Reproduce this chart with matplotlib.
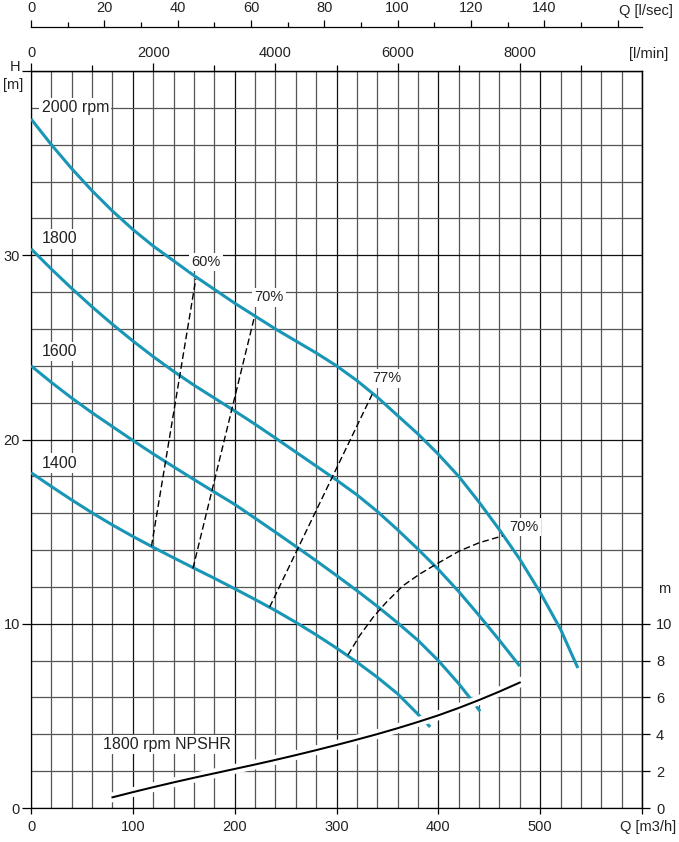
import matplotlib
matplotlib.use('Agg')
import matplotlib.pyplot as plt
import matplotlib.patheffects as pe
from matplotlib.ticker import FixedLocator, MultipleLocator

plt.rcParams['font.family'] = ['Liberation Sans', 'DejaVu Sans']

# ---------------- data ----------------
q_2000 = [0, 20, 40, 60, 80, 100, 120, 140, 160, 180, 200, 220, 240, 260, 280, 300,
          320, 340, 360, 380, 400, 420, 440, 460, 480, 500, 520, 537]
h_2000 = [37.4, 36.0, 34.7, 33.5, 32.4, 31.4, 30.5, 29.7, 28.9, 28.15, 27.4, 26.7, 26.0,
          25.35, 24.7, 24.0, 23.2, 22.3, 21.3, 20.3, 19.2, 18.0, 16.6, 15.1, 13.5, 11.7, 9.7, 7.6]

q_1800 = [0, 20, 40, 60, 80, 100, 120, 140, 160, 180, 200, 220, 240, 260, 280, 300,
          320, 340, 360, 380, 400, 420, 440, 460, 480]
h_1800 = [30.35, 29.25, 28.2, 27.2, 26.25, 25.35, 24.5, 23.7, 22.95, 22.25, 21.55, 20.83,
          20.08, 19.32, 18.56, 17.8, 17.0, 16.1, 15.1, 14.05, 12.95, 11.75, 10.45, 9.1, 7.7]

q_1600 = [0, 20, 40, 60, 80, 100, 120, 140, 160, 180, 200, 220, 240, 260, 280, 300,
          320, 340, 360, 380, 400, 420, 430, 441]
h_1600 = [24.0, 23.1, 22.25, 21.45, 20.7, 19.95, 19.22, 18.52, 17.83, 17.15, 16.48, 15.73,
          14.97, 14.2, 13.42, 12.62, 11.8, 10.95, 10.05, 9.1, 8.0, 6.75, 6.05, 5.25]

q_1400 = [0, 20, 40, 60, 80, 100, 120, 140, 160, 180, 200, 220, 240, 260, 280, 300,
          320, 340, 360, 378, 392]
h_1400 = [18.2, 17.45, 16.72, 16.02, 15.36, 14.74, 14.15, 13.58, 13.02, 12.47, 11.9, 11.32,
          10.72, 10.08, 9.4, 8.68, 7.92, 7.1, 6.2, 5.2, 4.4]

speed_labels = ['2000 rpm', '1800', '1600', '1400']
speed_label_h = [37.75, 30.65, 24.53, 18.46]

eff60_q, eff60_h = [118.3, 161.8], [14.2, 28.7]
eff70a_q, eff70a_h = [159.0, 219.6], [13.0, 26.7]
eff77_q, eff77_h = [234.3, 335.0], [10.9, 22.45]
eff70b_q = [311.2, 322.7, 335.8, 348.8, 365.2, 381.5, 397.8, 420.7, 440.3, 463.2]
eff70b_h = [8.30, 9.35, 10.34, 11.16, 12.06, 12.69, 13.23, 13.95, 14.40, 14.77]
eff_labels = ['60%', '70%', '77%', '70%']
eff_label_q = [157.5, 219.6, 335.0, 469.6]
eff_label_h = [29.41, 27.5, 23.1, 15.05]

npshr_q = [80, 100, 120, 140, 160, 180, 200, 220, 240, 260, 280, 300, 320, 340, 360,
           380, 400, 420, 440, 460, 480]
npshr_h = [0.58, 0.86, 1.13, 1.39, 1.64, 1.88, 2.12, 2.36, 2.61, 2.87, 3.14, 3.42, 3.71,
           4.01, 4.33, 4.67, 5.03, 5.43, 5.86, 6.32, 6.81]

x_ticks = [0, 100, 200, 300, 400, 500, 600]
x_ticklabels = ['0', '100', '200', '300', '400', '500', '']
y_ticks = [0, 10, 20, 30, 40]
y_ticklabels = ['0', '10', '20', '30', '']
npshr_ticks = [0, 2, 4, 6, 8, 10]
lps_major = [0, 20, 40, 60, 80, 100, 120, 140, 160]
lps_labels = ['0', '20', '40', '60', '80', '100', '120', '140', '']
lps_minor = [10, 30, 50, 70, 90, 110, 130, 150]
lmin_major = [0, 2000, 4000, 6000, 8000]
lmin_labels = ['0', '2000', '4000', '6000', '8000']
lmin_minor = [1000, 3000, 5000, 7000, 9000]

# ---------------- figure ----------------
W, H = 679, 842
fig = plt.figure(figsize=(W / 100, H / 100), dpi=100)
L, R, B, T = 31 / W, 642 / W, 1 - 808 / H, 1 - 71 / H
ax = fig.add_axes([L, B, R - L, T - B])
ax.set_xlim(0, 600)
ax.set_ylim(0, 40)

TXT = '#222222'
BLUE = '#1996b6'

for s in ax.spines.values():
    s.set_color('black')
    s.set_linewidth(0.9)

ax.set_xticks(x_ticks)
ax.set_xticklabels(x_ticklabels)
ax.xaxis.set_minor_locator(MultipleLocator(20))
ax.set_yticks(y_ticks)
ax.set_yticklabels(y_ticklabels)
ax.yaxis.set_minor_locator(MultipleLocator(2))
ax.grid(which='minor', color='#555555', linewidth=0.9)
ax.grid(which='major', color='#111111', linewidth=0.9)
ax.set_axisbelow(True)
ax.tick_params(which='minor', length=0)
ax.tick_params(axis='x', which='major', length=4.5, width=0.9, pad=4,
               labelsize=10.5, labelcolor=TXT)
ax.tick_params(axis='y', which='major', length=6.5, width=0.9, pad=1.5,
               labelsize=10.5, labelcolor=TXT)

# right NPSHR axis (1:1 with head)
sec_r = ax.secondary_yaxis('right')
sec_r.set_yticks(npshr_ticks)
sec_r.tick_params(length=5.8, width=0.9, pad=4.3, labelsize=10.5, labelcolor=TXT)
sec_r.spines['right'].set_linewidth(0.9)

# top l/min axis
sec_lmin = ax.secondary_xaxis('top', functions=(lambda q: q * 1000 / 60,
                                                 lambda v: v * 60 / 1000))
sec_lmin.xaxis.set_major_locator(FixedLocator(lmin_major))
sec_lmin.set_xticklabels(lmin_labels)
sec_lmin.xaxis.set_minor_locator(FixedLocator(lmin_minor))
sec_lmin.tick_params(which='major', length=6.0, width=0.9, pad=2.2,
                     labelsize=10.5, labelcolor=TXT)
sec_lmin.tick_params(which='minor', length=4.1, width=0.9)
sec_lmin.spines['top'].set_linewidth(0.9)

# top l/sec axis
loc = (808 - 26.7) / (808 - 71)
sec_lps = ax.secondary_xaxis(loc, functions=(lambda q: q / 3.6, lambda v: v * 3.6))
sec_lps.xaxis.set_major_locator(FixedLocator(lps_major))
sec_lps.set_xticklabels(lps_labels)
sec_lps.xaxis.set_minor_locator(FixedLocator(lps_minor))
sec_lps.tick_params(which='major', length=5.3, width=0.9, pad=3.0,
                    labelsize=10.5, labelcolor=TXT)
sec_lps.tick_params(which='minor', length=3.4, width=0.9)
sec_lps.spines['top'].set_linewidth(0.9)

# ---------------- curves ----------------
for q, h in [(q_2000, h_2000), (q_1800, h_1800), (q_1600, h_1600), (q_1400, h_1400)]:
    ax.plot(q, h, color=BLUE, lw=2.2, solid_capstyle='butt',
            solid_joinstyle='round', zorder=3)

dash = (0, (4.8, 2.4))
for q, h in [(eff60_q, eff60_h), (eff70a_q, eff70a_h), (eff77_q, eff77_h),
             (eff70b_q, eff70b_h)]:
    ax.plot(q, h, color='black', lw=1.0, linestyle=dash, zorder=4)

ax.plot(npshr_q, npshr_h, color='black', lw=1.45, zorder=5,
        path_effects=[pe.Stroke(linewidth=7, foreground='white'), pe.Normal()])

bb = dict(boxstyle='square,pad=0.15', fc='white', ec='none')
for lab, hy in zip(speed_labels, speed_label_h):
    ax.text(10.5, hy, lab, fontsize=11.5, color=TXT, ha='left', va='baseline',
            bbox=bb, zorder=6)
for lab, qx, hy in zip(eff_labels, eff_label_q, eff_label_h):
    ax.text(qx, hy, lab, fontsize=10.5, color=TXT, ha='left', va='baseline',
            bbox=bb, zorder=6)
ax.text(70.9, 3.2, '1800 rpm NPSHR', fontsize=11.5, color=TXT, ha='left',
        va='baseline', bbox=bb, zorder=6)

# axis titles
fig.text(673 / W, 1 - 10.5 / H, 'Q [l/sec]', ha='right', va='center', fontsize=10.5, color=TXT)
fig.text(668 / W, 1 - 54 / H, '[l/min]', ha='right', va='center', fontsize=10.5, color=TXT)
fig.text(676 / W, 1 - 827 / H, 'Q [m3/h]', ha='right', va='center', fontsize=10.5, color=TXT)
fig.text(20 / W, 1 - 67 / H, 'H', ha='right', va='center', fontsize=10.5, color=TXT)
fig.text(23 / W, 1 - 85.5 / H, '[m]', ha='right', va='center', fontsize=10.5, color=TXT)
fig.text(658 / W, 1 - 593 / H, 'm', ha='left', va='baseline', fontsize=10.5, color=TXT)

fig.savefig('out.png', dpi=100)
